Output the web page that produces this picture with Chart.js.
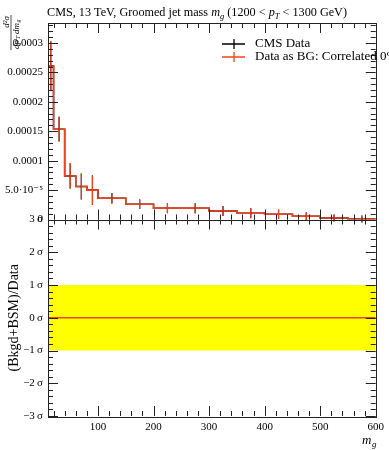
<!DOCTYPE html>
<html>
<head>
<meta charset="utf-8">
<script src="https://cdn.jsdelivr.net/npm/chart.js@4.4.0/dist/chart.umd.min.js"></script>
<style>
  html, body { margin: 0; padding: 0; background: #fff; }
  #wrap { width: 389px; height: 450px; }
</style>
</head>
<body>
<div id="wrap"><canvas id="grafica" width="389" height="450"></canvas></div>
<script>
// datos
const binEdges = [10, 20, 40, 60, 80, 100, 150, 200, 250, 300, 350, 400, 450, 500, 550, 600];
const cmsValues = [2.61e-4, 1.535e-4, 7.4e-5, 5.6e-5, 5.0e-5, 3.6e-5, 2.6e-5, 1.93e-5, 1.93e-5, 1.45e-5, 1.06e-5, 8.9e-6, 5.5e-6, 2.6e-6, 0.9e-6];
const cmsErrors = [4.2e-5, 2.1e-5, 2.15e-5, 2.2e-5, 2.5e-5, 9e-6, 8e-6, 8.5e-6, 8.5e-6, 8.5e-6, 8.5e-6, 8e-6, 7e-6, 6e-6, 6e-6];
const bgValues = [2.61e-4, 1.535e-4, 7.4e-5, 5.6e-5, 5.0e-5, 3.6e-5, 2.6e-5, 1.93e-5, 1.93e-5, 1.45e-5, 1.06e-5, 8.9e-6, 5.5e-6, 2.6e-6, 0.9e-6];
const bgErrors = [4.2e-5, 2.1e-5, 2.15e-5, 2.2e-5, 2.5e-5, 9e-6, 8e-6, 8.5e-6, 8.5e-6, 8.5e-6, 8.5e-6, 8e-6, 7e-6, 6e-6, 6e-6];
const ratioValue = 0;
const bandUpper = 1;
const bandLower = -1;

const xTicks = [100, 200, 300, 400, 500, 600];
const topTicks = [0, 5e-5, 1e-4, 1.5e-4, 2e-4, 2.5e-4, 3e-4];
const topTickLabels = ['0', '5.0\u00b710\u207b\u2075', '0.0001', '0.00015', '0.0002', '0.00025', '0.0003'];
const ratioTicks = [-3, -2, -1, 0, 1, 2, 3];
const ratioTickLabels = ['\u22123\u2009\u03c3', '\u22122\u2009\u03c3', '\u22121\u2009\u03c3', '0\u2009\u03c3', '1\u2009\u03c3', '2\u2009\u03c3', '3\u2009\u03c3'];

const ROJO = '#ee4422';
const SERIF = "'Liberation Serif', 'DejaVu Serif', serif";

function histo(values) {
  const pts = values.map((v, i) => ({ x: binEdges[i], y: v }));
  pts.push({ x: binEdges[binEdges.length - 1], y: values[values.length - 1] });
  return pts;
}

// texto con trozos en cursiva y subindices
function textoMixto(ctx, partes, size, cx, by) {
  const medir = () => {
    let w = 0;
    for (const p of partes) {
      ctx.font = (p.it ? 'italic ' : '') + (p.sub ? size * 0.7 : size) + 'px ' + SERIF;
      w += ctx.measureText(p.t).width;
    }
    return w;
  };
  let x = cx - medir() / 2;
  for (const p of partes) {
    ctx.font = (p.it ? 'italic ' : '') + (p.sub ? size * 0.7 : size) + 'px ' + SERIF;
    ctx.fillText(p.t, x, by + (p.sub ? size * 0.25 : 0));
    x += ctx.measureText(p.t).width;
  }
}

// barras de error, ticks hacia dentro, marco, leyenda y etiquetas
const extras = {
  id: 'extras',
  afterDatasetsDraw(chart) {
    const { ctx } = chart;
    const x = chart.scales.x, y = chart.scales.y, r = chart.scales.yr;
    const L = x.left, R = x.right;

    function errores(values, errs, color) {
      ctx.save();
      ctx.strokeStyle = color;
      ctx.lineWidth = 1.2;
      for (let i = 0; i < values.length; i++) {
        const cx = x.getPixelForValue((binEdges[i] + binEdges[i + 1]) / 2);
        ctx.beginPath();
        ctx.moveTo(cx, y.getPixelForValue(values[i] - errs[i]));
        ctx.lineTo(cx, y.getPixelForValue(values[i] + errs[i]));
        ctx.stroke();
      }
      ctx.restore();
    }
    errores(cmsValues, cmsErrors, '#000');
    errores(bgValues, bgErrors, ROJO);

    ctx.save();
    ctx.strokeStyle = '#222';
    ctx.lineWidth = 1;
    const paneles = [[y.top, y.bottom], [r.top, r.bottom]];
    ctx.beginPath();
    for (const [t, b] of paneles) {
      for (let v = 20; v <= 600; v += 20) {
        const px = Math.round(x.getPixelForValue(v)) + 0.5;
        const len = v % 100 === 0 ? 10 : 5;
        ctx.moveTo(px, t); ctx.lineTo(px, t + len);
        ctx.moveTo(px, b); ctx.lineTo(px, b - len);
      }
    }
    for (let k = 0; k <= 33; k++) {
      const py = Math.round(y.getPixelForValue(k * 1e-5)) + 0.5;
      const len = k % 5 === 0 ? 10 : 5;
      ctx.moveTo(L, py); ctx.lineTo(L + len, py);
      ctx.moveTo(R, py); ctx.lineTo(R - len, py);
    }
    for (let k = -15; k <= 15; k++) {
      const py = Math.round(r.getPixelForValue(k / 5)) + 0.5;
      const len = k % 5 === 0 ? 10 : 5;
      ctx.moveTo(L, py); ctx.lineTo(L + len, py);
      ctx.moveTo(R, py); ctx.lineTo(R - len, py);
    }
    ctx.stroke();
    for (const [t, b] of paneles) {
      ctx.strokeRect(Math.round(L) + 0.5, Math.round(t) + 0.5, Math.round(R - L), Math.round(b - t));
    }
    ctx.restore();

    // titulo
    ctx.save();
    ctx.fillStyle = '#000';
    ctx.textBaseline = 'alphabetic';
    textoMixto(ctx, [
      { t: 'CMS, 13 TeV, Groomed jet mass ' },
      { t: 'm', it: true }, { t: 'g', it: true, sub: true },
      { t: ' (1200 < ' },
      { t: 'p', it: true }, { t: 'T', it: true, sub: true },
      { t: ' < 1300 GeV)' }
    ], 12.2, 197, 16);
    ctx.restore();

    // leyenda
    ctx.save();
    ctx.font = '13px ' + SERIF;
    ctx.textBaseline = 'middle';
    const filas = [['CMS Data', '#000', 44], ['Data as BG: Correlated 0%', ROJO, 57]];
    for (const [txt, col, fy] of filas) {
      ctx.strokeStyle = col;
      ctx.lineWidth = 1.3;
      ctx.beginPath();
      ctx.moveTo(222, fy); ctx.lineTo(245, fy);
      ctx.moveTo(234, fy - 5); ctx.lineTo(234, fy + 5);
      ctx.stroke();
      ctx.fillStyle = '#000';
      ctx.fillText(txt, 255, fy);
    }
    ctx.restore();

    // titulo del eje x
    ctx.save();
    ctx.fillStyle = '#000';
    ctx.font = 'italic 13px ' + SERIF;
    ctx.textBaseline = 'alphabetic';
    ctx.fillText('m', 362, 444);
    ctx.font = 'italic 9px ' + SERIF;
    ctx.fillText('g', 372, 447);
    ctx.restore();

    // titulo del eje y superior (fraccion)
    ctx.save();
    ctx.fillStyle = '#000';
    ctx.strokeStyle = '#000';
    ctx.translate(11, 33);
    ctx.rotate(-Math.PI / 2);
    ctx.font = 'italic 9px ' + SERIF;
    ctx.textBaseline = 'alphabetic';
    ctx.textAlign = 'center';
    ctx.fillText('d\u00b2\u03c3', 11, -2);
    ctx.lineWidth = 0.7;
    ctx.beginPath();
    ctx.moveTo(-17, 0); ctx.lineTo(18, 0);
    ctx.stroke();
    ctx.textAlign = 'left';
    ctx.fillText('dp', -16, 7.5);
    ctx.font = 'italic 6px ' + SERIF;
    ctx.fillText('T', -6, 9);
    ctx.font = 'italic 9px ' + SERIF;
    ctx.fillText('dm', -1, 7.5);
    ctx.font = 'italic 6px ' + SERIF;
    ctx.fillText('g', 10.5, 9);
    ctx.restore();

    // titulo del eje y inferior
    ctx.save();
    ctx.fillStyle = '#000';
    ctx.translate(14, r.getPixelForValue(0));
    ctx.rotate(-Math.PI / 2);
    ctx.font = '14px ' + SERIF;
    ctx.textAlign = 'center';
    ctx.textBaseline = 'middle';
    ctx.fillText('(Bkgd+BSM)/Data', 0, 0);
    ctx.restore();
  }
};

const ctx = document.getElementById('grafica').getContext('2d');
new Chart(ctx, {
  type: 'line',
  data: {
    datasets: [
      {
        label: 'band',
        yAxisID: 'yr',
        order: 4,
        data: [{ x: binEdges[0], y: bandUpper }, { x: binEdges[binEdges.length - 1], y: bandUpper }],
        borderWidth: 0,
        backgroundColor: '#ffff00',
        fill: { value: bandLower },
        pointRadius: 0
      },
      {
        label: 'ratio',
        yAxisID: 'yr',
        order: 3,
        data: [{ x: binEdges[0], y: ratioValue }, { x: binEdges[binEdges.length - 1], y: ratioValue }],
        borderColor: ROJO,
        borderWidth: 1.5,
        pointRadius: 0
      },
      {
        label: 'CMS Data',
        yAxisID: 'y',
        order: 2,
        data: histo(cmsValues),
        stepped: 'before',
        borderColor: '#000',
        borderWidth: 1.5,
        pointRadius: 0
      },
      {
        label: 'Data as BG: Correlated 0%',
        yAxisID: 'y',
        order: 1,
        data: histo(bgValues),
        stepped: 'before',
        borderColor: ROJO,
        borderWidth: 1.6,
        pointRadius: 0
      }
    ]
  },
  options: {
    responsive: false,
    animation: false,
    layout: { padding: { left: 0, right: 12, top: 23, bottom: 0 } },
    plugins: {
      legend: { display: false },
      tooltip: { enabled: false },
      title: { display: false }
    },
    scales: {
      x: {
        type: 'linear',
        min: 10,
        max: 600,
        grid: { display: false, drawTicks: false },
        border: { display: false },
        afterBuildTicks: s => { s.ticks = xTicks.map(v => ({ value: v })); },
        afterFit: s => { s.height = 34; },
        ticks: {
          padding: 5,
          maxRotation: 0,
          color: '#000',
          font: { family: SERIF, size: 11 },
          callback: v => String(v)
        }
      },
      yr: {
        type: 'linear',
        position: 'left',
        stack: 'paneles',
        stackWeight: 1,
        min: -3,
        max: 3,
        grid: { display: false, drawTicks: false },
        border: { display: false },
        afterBuildTicks: s => { s.ticks = ratioTicks.map(v => ({ value: v })); },
        afterFit: s => { s.width = 48; },
        ticks: {
          padding: 5,
          color: '#000',
          font: { family: SERIF, size: 11 },
          callback: v => ratioTickLabels[ratioTicks.indexOf(v)]
        }
      },
      y: {
        type: 'linear',
        position: 'left',
        stack: 'paneles',
        stackWeight: 1,
        min: 0,
        max: 3.34e-4,
        grid: { display: false, drawTicks: false },
        border: { display: false },
        afterBuildTicks: s => { s.ticks = topTicks.map(v => ({ value: v })); },
        afterFit: s => { s.width = 48; },
        ticks: {
          padding: 5,
          color: '#000',
          font: { family: SERIF, size: 11 },
          callback: (v, i) => topTickLabels[i]
        }
      }
    }
  },
  plugins: [extras]
});
</script>
</body>
</html>
